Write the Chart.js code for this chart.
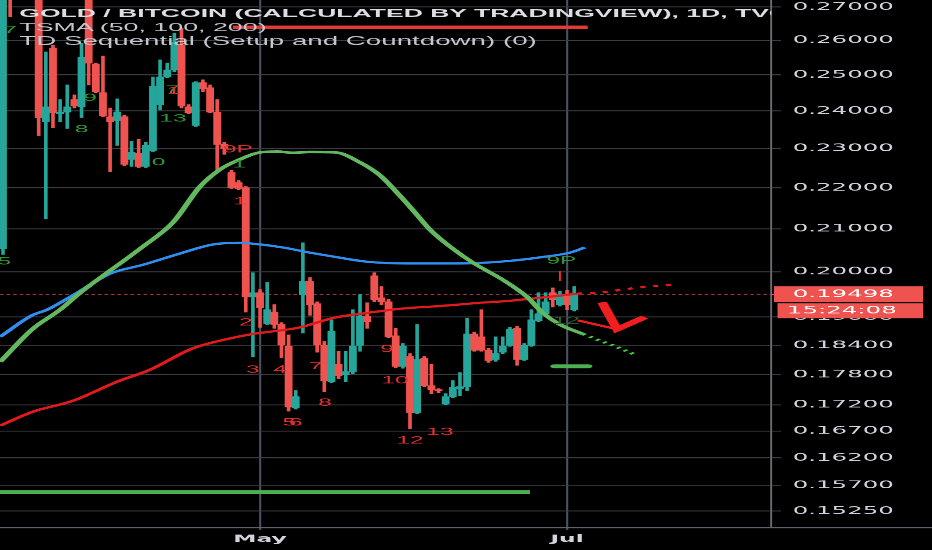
<!DOCTYPE html>
<html>
<head>
<meta charset="utf-8">
<title>GOLD / BITCOIN 1D</title>
<script src="https://cdn.jsdelivr.net/npm/chart.js@4.4.1/dist/chart.umd.min.js"></script>
<style>
  html, body { margin: 0; padding: 0; background: #000; overflow: hidden; }
  /* the reference screenshot is stretched sideways, so the whole chart is drawn narrow and widened */
  #wrap { position: relative; width: 400px; height: 550px; transform: scaleX(2.33); transform-origin: 0 0; }
  #legend { position: absolute; left: 8.3px; top: 5.5px; width: 322.6px; overflow: hidden; white-space: nowrap;
            font-family: 'Liberation Sans', Arial, sans-serif; font-size: 11.5px; line-height: 14px; color: #c3c6ce; }
  #legend .title { font-weight: bold; font-size: 11.4px; color: #dcdee4; }
  #legend .td { font-size: 11.9px; }
</style>
</head>
<body>
<div id="wrap">
  <canvas id="chart" width="400" height="550"></canvas>
  <div id="legend">
    <div class="title">GOLD / BITCOIN (CALCULATED BY TRADINGVIEW), 1D, TVC</div>
    <div>TSMA (50, 100, 200)</div>
    <div class="td">TD Sequential (Setup and Countdown) (0)</div>
  </div>
</div>
<script>
// daily bars, index 0 = first bar on the left edge (weekdays only)
const opens  = [0.2053, 0.3000, 0.2800, 0.2950, 0.2900, 0.2850, 0.2371, 0.2577, 0.2392, 0.2397,
                0.2431, 0.2411, 0.2800, 0.2531, 0.2450, 0.2384, 0.2374, 0.2384, 0.2272, 0.2287,
                0.2254, 0.2295, 0.2417, 0.2494, 0.2514, 0.2586, 0.2411, 0.2361, 0.2478, 0.2464,
                0.2397, 0.2311, 0.2238, 0.2213, 0.2200, 0.1944, 0.1953, 0.1886, 0.1911, 0.1884,
                0.1838, 0.1714, 0.1949, 0.1978, 0.1929, 0.1840, 0.1766, 0.1801, 0.1780, 0.1786,
                0.1840, 0.1902, 0.1991, 0.1942, 0.1933, 0.1860, 0.1797, 0.1817, 0.1705, 0.1813,
                0.1758, 0.1750, 0.1722, 0.1736, 0.1752, 0.1756, 0.1864, 0.1858, 0.1830, 0.1811,
                0.1826, 0.1840, 0.1876, 0.1811, 0.1840, 0.1892, 0.1907, 0.1953, 0.1927, 0.1949,
                0.1916];
const highs  = [0.2900, 0.3050, 0.3000, 0.3050, 0.2980, 0.2900, 0.2566, 0.2586, 0.2431, 0.2472,
                0.2444, 0.2591, 0.2850, 0.2534, 0.2554, 0.2408, 0.2433, 0.2389, 0.2318, 0.2324,
                0.2316, 0.2494, 0.2543, 0.2534, 0.2621, 0.2636, 0.2417, 0.2481, 0.2486, 0.2472,
                0.2431, 0.2316, 0.2244, 0.2218, 0.2203, 0.1998, 0.1960, 0.1976, 0.1927, 0.1888,
                0.1862, 0.1748, 0.2067, 0.1987, 0.1933, 0.1848, 0.1894, 0.1828, 0.1828, 0.1916,
                0.1949, 0.1931, 0.1998, 0.1967, 0.1938, 0.1876, 0.1844, 0.1823, 0.1884, 0.1817,
                0.1801, 0.1752, 0.1742, 0.1768, 0.1784, 0.1898, 0.1868, 0.1916, 0.1834, 0.1858,
                0.1858, 0.1878, 0.1880, 0.1844, 0.1916, 0.1953, 0.1953, 0.1964, 0.1956, 0.1958,
                0.1967];
const lows   = [0.2040, 0.2670, 0.2760, 0.2820, 0.2760, 0.2334, 0.2124, 0.2355, 0.2371, 0.2353,
                0.2408, 0.2382, 0.2472, 0.2450, 0.2384, 0.2241, 0.2308, 0.2256, 0.2254, 0.2251,
                0.2251, 0.2292, 0.2403, 0.2492, 0.2509, 0.2408, 0.2392, 0.2358, 0.2453, 0.2395,
                0.2241, 0.2285, 0.2198, 0.2195, 0.1911, 0.1817, 0.1878, 0.1884, 0.1876, 0.1815,
                0.1708, 0.1712, 0.1866, 0.1904, 0.1826, 0.1746, 0.1764, 0.1772, 0.1766, 0.1782,
                0.1828, 0.1876, 0.1933, 0.1927, 0.1856, 0.1794, 0.1793, 0.1674, 0.1703, 0.1756,
                0.1742, 0.1744, 0.1720, 0.1734, 0.1738, 0.1748, 0.1828, 0.1828, 0.1805, 0.1807,
                0.1823, 0.1838, 0.1799, 0.1809, 0.1838, 0.1890, 0.1904, 0.1922, 0.1924, 0.1916,
                0.1913];
const closes = [0.2850, 0.2800, 0.2950, 0.2900, 0.2850, 0.2382, 0.2411, 0.2395, 0.2397, 0.2411,
                0.2414, 0.2551, 0.2534, 0.2453, 0.2387, 0.2371, 0.2397, 0.2259, 0.2290, 0.2254,
                0.2308, 0.2467, 0.2494, 0.2514, 0.2594, 0.2414, 0.2395, 0.2478, 0.2461, 0.2397,
                0.2311, 0.2300, 0.2200, 0.2198, 0.1944, 0.1953, 0.1920, 0.1916, 0.1884, 0.1842,
                0.1716, 0.1736, 0.1978, 0.1927, 0.1842, 0.1768, 0.1870, 0.1778, 0.1786, 0.1838,
                0.1902, 0.1890, 0.1938, 0.1933, 0.1858, 0.1797, 0.1838, 0.1705, 0.1811, 0.1758,
                0.1750, 0.1748, 0.1736, 0.1754, 0.1756, 0.1864, 0.1830, 0.1830, 0.1809, 0.1823,
                0.1838, 0.1874, 0.1811, 0.1840, 0.1894, 0.1907, 0.1933, 0.1938, 0.1949, 0.1927,
                0.19498];

const priceTicks = [0.27, 0.26, 0.25, 0.24, 0.23, 0.22, 0.21, 0.20, 0.19, 0.184, 0.178, 0.172, 0.167, 0.162, 0.157, 0.1525];
const monthBars = [36, 79];
const monthNames = ['May', 'Jul'];
const timeLeft = '15:24:08';

// moving averages
const sma50Bars = [-0.4, 4.1, 8.0, 10.8, 19.6, 23.8, 27.6, 30.4, 33.2, 36, 38.4, 40.6, 43, 46.5, 50, 52.8, 55.6, 57.7, 59.8, 62.6, 65.8, 70, 73.4, 75.6, 78, 81.2];
const sma50Vals = [0.1806, 0.1874, 0.1916, 0.1953, 0.2058, 0.2115, 0.2203, 0.2246, 0.2272, 0.2290, 0.2292, 0.2289, 0.2291, 0.2290, 0.2264, 0.2231, 0.2180, 0.2139, 0.2098, 0.2058, 0.2021, 0.1982, 0.1944, 0.1909, 0.1884, 0.1864];
const sma50NextBars = [81.2, 83.6, 86.1, 88.8];
const sma50NextVals = [0.1864, 0.1850, 0.1836, 0.1819];
const sma100Bars = [-0.4, 4.1, 6.2, 10.4, 15, 19.6, 24.4, 29.4, 33.2, 36, 39.2, 43, 46.2, 51, 56.6, 64, 69.6, 75.2, 79.4, 81.5];
const sma100Vals = [0.1858, 0.1904, 0.1916, 0.1953, 0.1996, 0.2016, 0.2040, 0.2063, 0.2067, 0.2063, 0.2056, 0.2044, 0.2035, 0.2023, 0.2019, 0.2019, 0.2023, 0.2033, 0.2044, 0.2056];
const sma200Bars = [-0.4, 4.2, 9.8, 16, 20.6, 26.6, 32.2, 35, 41.6, 46.2, 51, 55.6, 61.2, 66.8, 71.4, 75.2, 80.4];
const sma200Vals = [0.1680, 0.1707, 0.1728, 0.1766, 0.1790, 0.1834, 0.1856, 0.1864, 0.1878, 0.1898, 0.1909, 0.1918, 0.1924, 0.1931, 0.1936, 0.1942, 0.1951];
const sma200NextBars = [80.4, 83.2, 86.7, 90.3, 93.8];
const sma200NextVals = [0.1951, 0.1953, 0.1960, 0.1967, 0.1971];

// hand drawn marks
const topLineBars = [32.2, 81.9];
const topLineVals = [0.2639, 0.2639];
const floorBars = [-0.42, 73.8];
const floorVals = [0.1558, 0.1558];
const targetBars = [77.3, 81.9];
const targetVals = [0.1797, 0.1797];
const tickThinBars = [80.5, 86];
const tickThinVals = [0.1893, 0.1874];
const tickBars = [83.9, 86, 89.9];
const tickVals = [0.1932, 0.1874, 0.1900];

// TD Sequential counts
const tdText  = ['5', '7', '8', '9', '0', '7', '1', '13', '9P', '1', '1', '2', '3', '4', '5', '6', '7', '8', '9', '10', '12', '13', '9P', '|', '12'];
const tdBar   = [0.2, 1, 11, 12.2, 21.8, 23.7, 23.9, 23.8, 32.9, 33.1, 33.2, 34, 35, 38.8, 40.1, 41, 43.8, 45.1, 53.8, 54.9, 57, 61.2, 78.2, 78, 78.9];
const tdPrice = [0.2023, 0.2630, 0.2350, 0.2436, 0.2264, 0.2458, 0.2455, 0.2379, 0.2297, 0.2259, 0.2166, 0.1888, 0.1790, 0.1790, 0.1686, 0.1686, 0.1797, 0.1724, 0.1832, 0.1768, 0.1652, 0.1668, 0.2025, 0.1991, 0.1892];
const tdKind  = ['buy', 'buy', 'buy', 'buy', 'buy', 'buy', 'sell', 'buy', 'sell', 'buy', 'sell', 'sell', 'sell', 'sell', 'sell', 'sell', 'sell', 'sell', 'sell', 'sell', 'sell', 'sell', 'buy', 'sell', 'faint'];

const lastPrice = closes[closes.length - 1];
const up = '#26a69a', down = '#ef5350';
const tdColors = { buy: '#2f9a37', sell: '#e5302d', faint: '#2c5e30' };
const candleColors = closes.map((c, i) => c >= opens[i] ? up : down);

function pts(bars, vals) {
    return bars.map((b, i) => ({ x: b, y: vals[i] }));
}

function line(bars, vals, color, width, dash, order) {
    return {
        type: 'line',
        data: pts(bars, vals),
        borderColor: color,
        borderWidth: width,
        borderDash: dash || [],
        pointRadius: 0,
        cubicInterpolationMode: 'monotone',
        fill: false,
        order: order
    };
}

const overlay = {
    id: 'overlay',
    afterDatasetsDraw(chart) {
        const { ctx, scales: { x, y } } = chart;
        ctx.save();
        ctx.font = '10.5px "Liberation Sans"';
        ctx.textAlign = 'center';
        ctx.textBaseline = 'middle';
        tdText.forEach((t, k) => {
            ctx.fillStyle = tdColors[tdKind[k]];
            ctx.fillText(t, x.getPixelForValue(tdBar[k]), y.getPixelForValue(tdPrice[k]));
        });
        ctx.restore();
    },
    afterDraw(chart) {
        const { ctx, chartArea, scales: { y } } = chart;
        ctx.save();
        ctx.strokeStyle = '#5f626c';
        ctx.lineWidth = 1;
        ctx.beginPath();
        ctx.moveTo(0, chartArea.bottom + 0.5);
        ctx.lineTo(chart.width, chartArea.bottom + 0.5);
        ctx.stroke();

        const py = y.getPixelForValue(lastPrice);
        const left = chartArea.right + 1.3;
        ctx.fillStyle = down;
        ctx.fillRect(chartArea.right, py - 0.6, 1.5, 1.2);
        ctx.fillRect(left, py - 8, 64, 16);
        ctx.fillRect(left + 1.5, py + 9, 62.5, 15);
        ctx.fillStyle = '#ffffff';
        ctx.font = '10.5px "DejaVu Sans"';
        ctx.textBaseline = 'middle';
        ctx.textAlign = 'left';
        ctx.fillText(lastPrice.toFixed(5), chartArea.right + 9.3, py);
        ctx.fillText(timeLeft, chartArea.right + 6.8, py + 16.5);
        ctx.restore();
    }
};

const ctx = document.getElementById('chart');

new Chart(ctx, {
    type: 'bar',
    data: {
        datasets: [
            {
                type: 'bar',
                data: closes.map((c, i) => ({ x: i, y: [lows[i], highs[i]] })),
                backgroundColor: candleColors,
                barThickness: 0.9,
                grouped: false,
                order: 11
            },
            {
                type: 'bar',
                data: closes.map((c, i) => ({ x: i, y: [opens[i], c] })),
                backgroundColor: candleColors,
                barThickness: 2.7,
                minBarLength: 0.8,
                grouped: false,
                order: 10
            },
            line([-0.42, 107.56], [lastPrice, lastPrice], 'rgba(239, 83, 80, 0.8)', 1, [1.6, 1.2], 12),
            line(sma200Bars, sma200Vals, '#e31a1c', 2.2, null, 5),
            line(sma200NextBars, sma200NextVals, '#e31a1c', 2.2, [2.2, 3.4], 5),
            line(sma100Bars, sma100Vals, '#2e8ff0', 2.2, null, 4),
            line(sma50Bars, sma50Vals, '#63b85f', 2.6, null, 3),
            line(sma50NextBars, sma50NextVals, '#3fcf3a', 2.4, [1.4, 2.6], 3),
            line(topLineBars, topLineVals, '#e53935', 3.2, null, 2),
            line(floorBars, floorVals, '#4caf50', 4, null, 2),
            Object.assign(line(targetBars, targetVals, '#4caf50', 4, null, 2), { borderCapStyle: 'round' }),
            line(tickThinBars, tickThinVals, '#f01e1e', 2, null, 1),
            Object.assign(line(tickBars, tickVals, '#f01e1e', 4.2, null, 1), { cubicInterpolationMode: 'default', tension: 0 })
        ]
    },
    options: {
        responsive: false,
        devicePixelRatio: 2.33,
        animation: false,
        events: [],
        layout: { padding: 0 },
        plugins: {
            legend: { display: false },
            tooltip: { enabled: false }
        },
        scales: {
            x: {
                type: 'linear',
                min: -0.42,
                max: 107.56,
                offset: false,
                afterBuildTicks: (s) => { s.ticks = monthBars.map(v => ({ value: v })); },
                afterFit: (s) => { s.height = 23; s.paddingLeft = 0; s.paddingRight = 0; },
                ticks: {
                    autoSkip: false,
                    maxRotation: 0,
                    padding: 3,
                    color: '#d1d4dc',
                    font: { family: 'DejaVu Sans', size: 10, weight: 'bold' },
                    callback: (v) => {
                        const k = monthBars.indexOf(v);
                        return k >= 0 ? monthNames[k] : '';
                    }
                },
                grid: { color: '#4d5062', lineWidth: 0.9, tickLength: 3, offset: false },
                border: { display: false }
            },
            y: {
                type: 'logarithmic',
                position: 'right',
                min: 0.14974,
                max: 0.27215,
                bounds: 'data',
                beginAtZero: false,
                afterBuildTicks: (s) => { s.ticks = priceTicks.map(v => ({ value: v })); },
                afterFit: (s) => { s.width = 69.1; s.paddingTop = 0; s.paddingBottom = 0; },
                ticks: {
                    autoSkip: false,
                    padding: 5,
                    color: '#d1d4dc',
                    font: { family: 'DejaVu Sans', size: 10.5 },
                    callback: (v) => Number(v).toFixed(5)
                },
                grid: { color: '#3b3c42', lineWidth: 1, tickLength: 4.3 },
                border: { display: true, color: '#6a6d77', width: 0.8 }
            }
        }
    },
    plugins: [overlay]
});
</script>
</body>
</html>
